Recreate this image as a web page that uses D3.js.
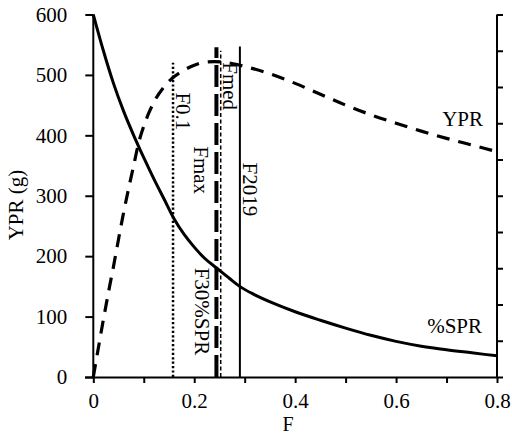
<!DOCTYPE html>
<html><head><meta charset="utf-8">
<script src="https://cdn.jsdelivr.net/npm/d3@7"></script>
<style>
html,body{margin:0;padding:0;background:#fff;}
svg text{font-family:"Liberation Serif","Times New Roman",serif;fill:#000;}
</style></head>
<body><svg id="c" width="512" height="436"></svg>
<script>
// ---- data ----
const fValues   = [0,0.01,0.02,0.03,0.04,0.05,0.06,0.07,0.08,0.09,0.10,0.11,0.12,0.14,0.16,0.18,0.20,0.22,0.24,0.26,0.28,0.30,0.35,0.40,0.45,0.50,0.55,0.60,0.65,0.70,0.75,0.80];
const yprValues = [0,48,95,140,183,228,272,312,350,388,415,437,455,480,497,508,516,521,522,521,518,514,502,486,468,450,434,420,407,395,384,373];
const sprF      = [0,0.02,0.04,0.06,0.08,0.10,0.12,0.14,0.16,0.18,0.20,0.22,0.245,0.27,0.29,0.32,0.36,0.40,0.45,0.50,0.55,0.60,0.65,0.70,0.75,0.80];
const sprValues = [600,540,486,440,400,363,328,295,262,236,215,197,180,163,150,136,121,108,94,81,69,59,51,45,40,35];
const refNames  = ["F0.1","Fmax","F30%SPR","F2019"];
const refF      = [0.158,0.244,0.2525,0.2905];
const refTop    = [520,546,540,547];
const xTicks    = [0,0.2,0.4,0.6,0.8];
const xMinor    = [0.1,0.3,0.5,0.7];
const yTicks    = [0,100,200,300,400,500,600];
const rightTicks= [0,10,20,30,40,50,60,70,80,90,100];

const svg = d3.select("#c");
const x = d3.scaleLinear().domain([0,0.8]).range([93.3,497]);
const y = d3.scaleLinear().domain([0,600]).range([377,14.5]);
const yR = d3.scaleLinear().domain([0,100]).range([377,14.5]);
const FS = 21;

// axes
const gx = svg.append("g").attr("transform","translate(0,377)")
  .call(d3.axisBottom(x).tickValues(xTicks).tickFormat(d=>d===0?"0":d3.format(".1f")(d)).tickSize(6).tickPadding(10));
const gxm = svg.append("g").attr("transform","translate(0,377)")
  .call(d3.axisBottom(x).tickValues(xMinor).tickFormat("").tickSize(6));
gxm.select(".domain").remove();
const gy = svg.append("g").attr("transform","translate(93.3,0)")
  .call(d3.axisLeft(y).tickValues(yTicks).tickSize(8).tickPadding(18));
const gr = svg.append("g").attr("transform","translate(497,0)")
  .call(d3.axisRight(yR).tickValues(rightTicks).tickFormat("").tickSize(6));
[gx,gxm,gy,gr].forEach(g=>{
  g.selectAll(".domain").attr("stroke","#000").attr("stroke-width",2);
  g.selectAll(".tick line").attr("stroke","#000").attr("stroke-width",2);
  g.selectAll("text").style("font-size",FS+"px").attr("font-family","Liberation Serif").attr("fill","#000");
});
gx.select(".domain").attr("d","M85,0.5H497");
gy.select(".domain").attr("d","M0,14.5V377");
gr.select(".domain").attr("d","M0,14.5V377");

// vertical reference lines
const refStyles = [
  {w:2.5, dash:"2.2,2.2"},
  {w:4,   dash:"22,7"},
  {w:1.5, dash:"4,2.5"},
  {w:2,   dash:null}
];
refF.forEach((f,i)=>{
  const l = svg.append("line").attr("x1",x(f)).attr("x2",x(f))
    .attr("y1",y(0)).attr("y2",y(refTop[i]))
    .attr("stroke","#000").attr("stroke-width",refStyles[i].w);
  if(refStyles[i].dash) l.attr("stroke-dasharray",refStyles[i].dash);
});

// curves
const line = d3.line().x(d=>x(d[0])).y(d=>y(d[1])).curve(d3.curveMonotoneX);
svg.append("path").datum(sprF.map((f,i)=>[f,sprValues[i]]))
  .attr("d",line).attr("fill","none").attr("stroke","#000").attr("stroke-width",3);
svg.append("path").datum(fValues.map((f,i)=>[f,yprValues[i]]))
  .attr("d",line).attr("fill","none").attr("stroke","#000").attr("stroke-width",3.2)
  .attr("stroke-dasharray","13,9");

// rotated line labels
const labels = [
  {t:"F0.1",    f:0.158, dx:2.5,  yv:471},
  {t:"Fmed",    f:0.2525,dx:2.5,  yv:521},
  {t:"Fmax",    f:0.244, dx:-22,  yv:382},
  {t:"F2019",   f:0.2905,dx:3,    yv:355},
  {t:"F30%SPR", f:0.244, dx:-21,  yv:181}
];
labels.forEach(L=>{
  const px = x(L.f)+L.dx, py = y(L.yv);
  svg.append("text").attr("transform",`translate(${px},${py}) rotate(90)`)
    .style("font-size",FS+"px").text(L.t);
});

// series labels
svg.append("text").attr("x",483).attr("y",126).attr("text-anchor","end").style("font-size",FS+"px").text("YPR");
svg.append("text").attr("x",482).attr("y",333).attr("text-anchor","end").style("font-size",FS+"px").text("%SPR");

// axis titles
svg.append("text").attr("transform","translate(23,205) rotate(-90)").attr("text-anchor","middle").style("font-size",FS+"px").text("YPR (g)");
svg.append("text").attr("x",288).attr("y",431).attr("text-anchor","middle").style("font-size","20px").text("F");
</script></body></html>
